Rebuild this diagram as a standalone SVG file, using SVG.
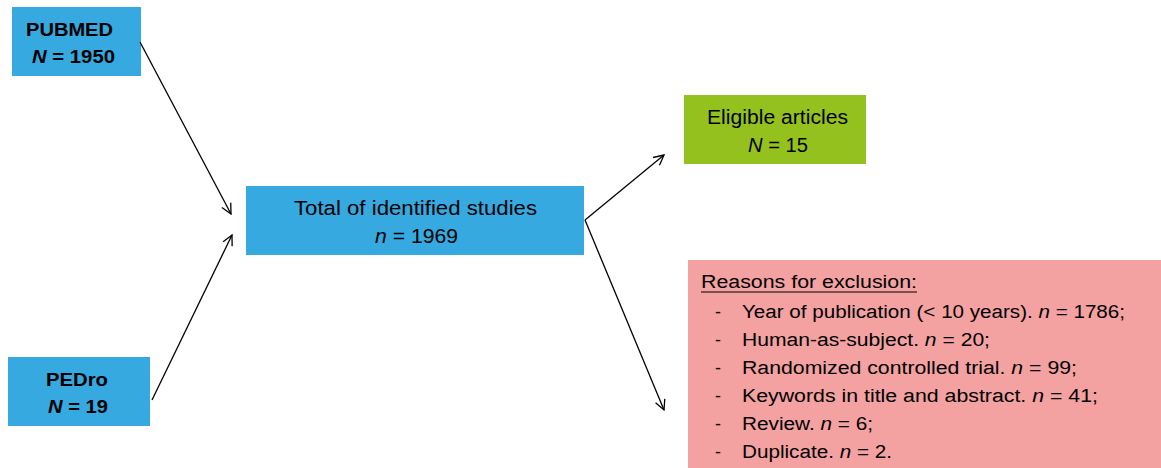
<svg xmlns="http://www.w3.org/2000/svg" width="1161" height="468" viewBox="0 0 1161 468">
<defs>
<marker id="ah" viewBox="0 0 12 12" refX="11" refY="6" markerWidth="12" markerHeight="12" markerUnits="userSpaceOnUse" orient="auto">
<path d="M1,1 L11,6 L1,11" fill="none" stroke="#000" stroke-width="1.3"/>
</marker>
<style>
text{font-family:"Liberation Sans",Arial,sans-serif;fill:#000}
.b{font-weight:bold;font-size:19px}
.t{font-size:20px}
.r{font-size:18px}
.blue{fill:#36A9E1}
.conn{stroke:#000;stroke-width:1.3;fill:none;marker-end:url(#ah)}
</style>
</defs>
<rect width="1161" height="468" fill="#fff"/>
<g id="pubmed">
<rect class="blue" x="12" y="7" width="129" height="69"/>
<text class="b" x="26" y="36" textLength="87" lengthAdjust="spacingAndGlyphs">PUBMED</text>
<text class="b" x="32" y="63" textLength="83" lengthAdjust="spacingAndGlyphs"><tspan font-style="italic">N</tspan> = 1950</text>
</g>
<g id="pedro">
<rect class="blue" x="8" y="357" width="142" height="69"/>
<text class="b" x="46" y="386" textLength="62" lengthAdjust="spacingAndGlyphs">PEDro</text>
<text class="b" x="48" y="413" textLength="60" lengthAdjust="spacingAndGlyphs"><tspan font-style="italic">N</tspan> = 19</text>
</g>
<g id="total">
<rect class="blue" x="246" y="186" width="338" height="69"/>
<text class="t" x="294" y="215" textLength="243" lengthAdjust="spacingAndGlyphs">Total of identified studies</text>
<text class="t" x="375" y="243" textLength="83" lengthAdjust="spacingAndGlyphs"><tspan font-style="italic">n</tspan> = 1969</text>
</g>
<g id="eligible">
<rect x="684" y="95" width="182" height="69" fill="#95C11F"/>
<text class="t" x="707" y="124" textLength="141" lengthAdjust="spacingAndGlyphs">Eligible articles</text>
<text class="t" x="748" y="152" textLength="60" lengthAdjust="spacingAndGlyphs"><tspan font-style="italic">N</tspan> = 15</text>
</g>
<g id="exclusion">
<rect x="688" y="260" width="473" height="208" fill="#F4A1A2"/>
<text class="r" x="701" y="288" textLength="216" lengthAdjust="spacingAndGlyphs">Reasons for exclusion:</text>
<line x1="701" y1="292" x2="917" y2="292" stroke="#000" stroke-width="1"/>
<text class="r" x="715" y="318">-</text>
<text class="r" x="742" y="318" textLength="383" lengthAdjust="spacingAndGlyphs">Year of publication (&lt; 10 years). <tspan font-style="italic">n</tspan> = 1786;</text>
<text class="r" x="715" y="346">-</text>
<text class="r" x="742" y="346" textLength="248" lengthAdjust="spacingAndGlyphs">Human-as-subject. <tspan font-style="italic">n</tspan> = 20;</text>
<text class="r" x="715" y="374">-</text>
<text class="r" x="742" y="374" textLength="335" lengthAdjust="spacingAndGlyphs">Randomized controlled trial. <tspan font-style="italic">n</tspan> = 99;</text>
<text class="r" x="715" y="402">-</text>
<text class="r" x="742" y="402" textLength="356" lengthAdjust="spacingAndGlyphs">Keywords in title and abstract. <tspan font-style="italic">n</tspan> = 41;</text>
<text class="r" x="715" y="430">-</text>
<text class="r" x="742" y="430" textLength="131" lengthAdjust="spacingAndGlyphs">Review. <tspan font-style="italic">n</tspan> = 6;</text>
<text class="r" x="715" y="458">-</text>
<text class="r" x="742" y="458" textLength="150" lengthAdjust="spacingAndGlyphs">Duplicate. <tspan font-style="italic">n</tspan> = 2.</text>
</g>
<g id="connectors">
<line class="conn" x1="140" y1="42" x2="231" y2="214"/>
<line class="conn" x1="152" y1="400" x2="232" y2="235"/>
<line class="conn" x1="585" y1="220" x2="664" y2="155"/>
<line class="conn" x1="585" y1="220" x2="664" y2="410"/>
</g>
</svg>
